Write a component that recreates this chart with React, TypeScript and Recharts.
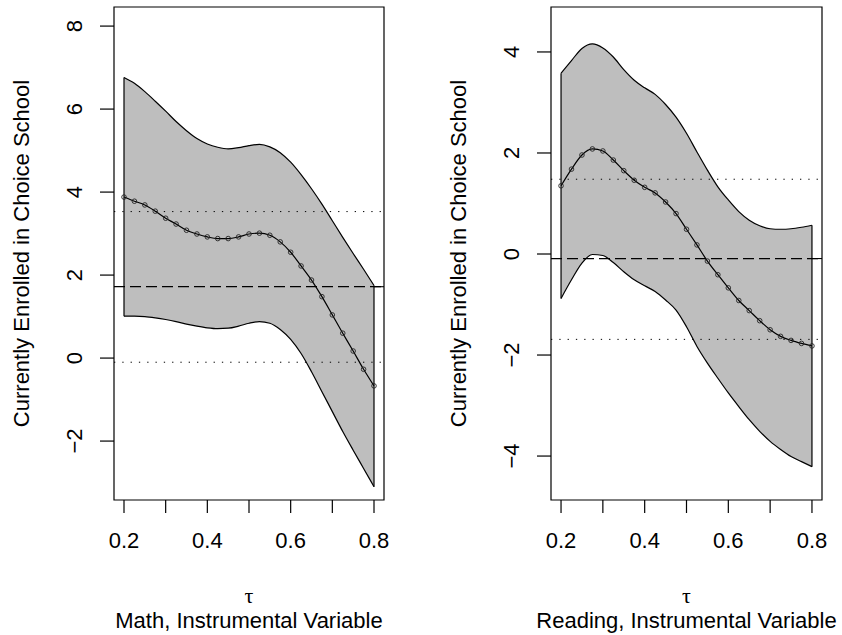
import React from "react";
import { ComposedChart, Area, Line, XAxis, YAxis, ReferenceLine, ReferenceArea } from "recharts";

const FONT = "'Liberation Sans', Arial, Helvetica, sans-serif";

// quantiles
const tau = [
  0.2, 0.225, 0.25, 0.275, 0.3, 0.325, 0.35, 0.375, 0.4, 0.425, 0.45, 0.475, 0.5,
  0.525, 0.55, 0.575, 0.6, 0.625, 0.65, 0.675, 0.7, 0.725, 0.75, 0.775, 0.8,
];

// Math panel
const mathEst = [
  3.88, 3.78, 3.69, 3.54, 3.37, 3.23, 3.08, 2.99, 2.92, 2.88, 2.88, 2.92, 2.99,
  3.01, 2.96, 2.8, 2.55, 2.22, 1.88, 1.48, 1.04, 0.6, 0.17, -0.27, -0.67,
];
const mathHi = [
  6.76, 6.62, 6.42, 6.19, 5.95, 5.7, 5.48, 5.29, 5.16, 5.08, 5.04, 5.07, 5.12,
  5.15, 5.09, 4.95, 4.72, 4.42, 4.08, 3.71, 3.31, 2.91, 2.52, 2.14, 1.75,
];
const mathLo = [
  1.01, 1.01, 1.0, 0.97, 0.93, 0.88, 0.82, 0.77, 0.73, 0.71, 0.72, 0.77, 0.84,
  0.88, 0.84, 0.69, 0.45, 0.11, -0.33, -0.81, -1.29, -1.77, -2.22, -2.66, -3.1,
];
const mathOls = 1.72;
const mathOlsCi = [3.53, -0.1];

// Reading panel
const readEst = [
  1.35, 1.68, 1.96, 2.08, 2.04, 1.86, 1.65, 1.46, 1.32, 1.21, 1.03, 0.8, 0.49,
  0.18, -0.14, -0.41, -0.67, -0.92, -1.12, -1.32, -1.5, -1.63, -1.71, -1.77, -1.82,
];
const readHi = [
  3.58, 3.83, 4.07, 4.16, 4.08, 3.9, 3.65, 3.44, 3.29, 3.16, 2.96, 2.71, 2.39,
  2.02, 1.66, 1.33, 1.07, 0.84, 0.67, 0.56, 0.5, 0.49, 0.5, 0.53, 0.57,
];
const readLo = [
  -0.88, -0.51, -0.18, -0.01, -0.03, -0.17, -0.35, -0.51, -0.63, -0.74, -0.91,
  -1.11, -1.44, -1.83, -2.16, -2.46, -2.75, -3.02, -3.28, -3.51, -3.71, -3.87,
  -4.01, -4.11, -4.21,
];
const readOls = -0.09;
const readOlsCi = [1.48, -1.69];

// axes
const xTicks = [0.2, 0.3, 0.4, 0.5, 0.6, 0.7, 0.8];
const xTickLabels = ["0.2", "", "0.4", "", "0.6", "", "0.8"];
const X_DOMAIN: [number, number] = [0.176, 0.824];

const mathYTicks = [-2, 0, 2, 4, 6, 8];
const mathYLabels = ["\u22122", "0", "2", "4", "6", "8"];
const readYTicks = [-4, -2, 0, 2, 4];
const readYLabels = ["\u22124", "\u22122", "0", "2", "4"];

const yTitle = "Currently Enrolled in Choice School";

interface PanelProps {
  left: number;
  width: number;
  plotLeft: number;
  plotRight: number;
  est: number[];
  lo: number[];
  hi: number[];
  ols: number;
  olsCi: number[];
  yDomain: [number, number];
  yTicks: number[];
  yLabels: string[];
  subtitle: string;
}

function Panel(p: PanelProps) {
  const rows = tau.map((t, i) => ({ tau: t, est: p.est[i], band: [p.lo[i], p.hi[i]] }));
  const yAxisW = p.plotLeft - p.left;
  const last = tau.length - 1;
  const cx = (p.plotLeft + p.plotRight) / 2 - p.left;

  const XTick = (props: any) => (
    <text x={props.x} y={548} textAnchor="middle" fontFamily={FONT} fontSize={22} fill="#000">
      {xTickLabels[props.index]}
    </text>
  );
  const YTick = (props: any) => {
    const bx = yAxisW - 32;
    return (
      <text
        x={bx}
        y={props.y}
        transform={`rotate(-90 ${bx} ${props.y})`}
        textAnchor="middle"
        fontFamily={FONT}
        fontSize={22}
        fill="#000"
      >
        {p.yLabels[props.index]}
      </text>
    );
  };

  return (
    <div style={{ position: "absolute", left: p.left, top: 0, width: p.width, height: 635 }}>
      <ComposedChart
        width={p.width}
        height={635}
        data={rows}
        margin={{ top: 7, right: p.left + p.width - p.plotRight, bottom: 0, left: 0 }}
      >
        <XAxis
          dataKey="tau"
          type="number"
          domain={X_DOMAIN}
          ticks={xTicks}
          interval={0}
          allowDataOverflow
          axisLine={false}
          tickLine={{ stroke: "#000", strokeWidth: 1.2 }}
          tickSize={13}
          height={135}
          tick={<XTick />}
        />
        <YAxis
          type="number"
          domain={p.yDomain}
          ticks={p.yTicks}
          interval={0}
          allowDataOverflow
          axisLine={false}
          tickLine={{ stroke: "#000", strokeWidth: 1.2 }}
          tickSize={14}
          width={yAxisW}
          tick={<YTick />}
        />
        <Area
          dataKey="band"
          type="monotone"
          fill="#bebebe"
          fillOpacity={1}
          stroke="#000"
          strokeWidth={1.2}
          isAnimationActive={false}
        />
        <ReferenceLine
          segment={[{ x: tau[0], y: p.lo[0] }, { x: tau[0], y: p.hi[0] }]}
          stroke="#000"
          strokeWidth={1.2}
        />
        <ReferenceLine
          segment={[{ x: tau[last], y: p.lo[last] }, { x: tau[last], y: p.hi[last] }]}
          stroke="#000"
          strokeWidth={1.2}
        />
        <ReferenceLine y={p.ols} stroke="#000" strokeWidth={1.3} strokeDasharray="11 5" />
        <ReferenceLine
          segment={[{ x: tau[last], y: p.ols }, { x: X_DOMAIN[1], y: p.ols }]}
          stroke="#000"
          strokeWidth={1.1}
        />
        {p.olsCi.map((v, i) => (
          <ReferenceLine key={i} y={v} stroke="#000" strokeWidth={1} strokeDasharray="1.3 7" />
        ))}
        <Line
          dataKey="est"
          type="monotone"
          stroke="#000"
          strokeWidth={1.2}
          dot={{ r: 2.3, fill: "none", stroke: "#222", strokeWidth: 0.9 }}
          activeDot={false}
          isAnimationActive={false}
        />
        <ReferenceArea
          x1={X_DOMAIN[0]}
          x2={X_DOMAIN[1]}
          y1={p.yDomain[0]}
          y2={p.yDomain[1]}
          fill="none"
          stroke="#000"
          strokeWidth={1.2}
        />
      </ComposedChart>
      <svg
        width={p.width}
        height={635}
        style={{ position: "absolute", left: 0, top: 0, pointerEvents: "none" }}
      >
        <text
          x={yAxisW - 85}
          y={253.5}
          transform={`rotate(-90 ${yAxisW - 85} 253.5)`}
          textAnchor="middle"
          fontFamily={FONT}
          fontSize={22}
          fill="#000"
        >
          {yTitle}
        </text>
        <text x={cx} y={603} textAnchor="middle" fontFamily="'Liberation Serif', 'DejaVu Serif', serif" fontSize={22} fill="#000">
          τ
        </text>
        <text x={cx} y={628} textAnchor="middle" fontFamily={FONT} fontSize={22} fill="#000">
          {p.subtitle}
        </text>
      </svg>
    </div>
  );
}

export default function App() {
  return (
    <div style={{ position: "absolute", left: 0, top: 0, width: 842, height: 635, background: "#fff" }}>
      <Panel
        left={0}
        width={421}
        plotLeft={114}
        plotRight={384}
        est={mathEst}
        lo={mathLo}
        hi={mathHi}
        ols={mathOls}
        olsCi={mathOlsCi}
        yDomain={[-3.42, 8.46]}
        yTicks={mathYTicks}
        yLabels={mathYLabels}
        subtitle="Math, Instrumental Variable"
      />
      <Panel
        left={421}
        width={421}
        plotLeft={551}
        plotRight={822}
        est={readEst}
        lo={readLo}
        hi={readHi}
        ols={readOls}
        olsCi={readOlsCi}
        yDomain={[-4.87, 4.89]}
        yTicks={readYTicks}
        yLabels={readYLabels}
        subtitle="Reading, Instrumental Variable"
      />
    </div>
  );
}
